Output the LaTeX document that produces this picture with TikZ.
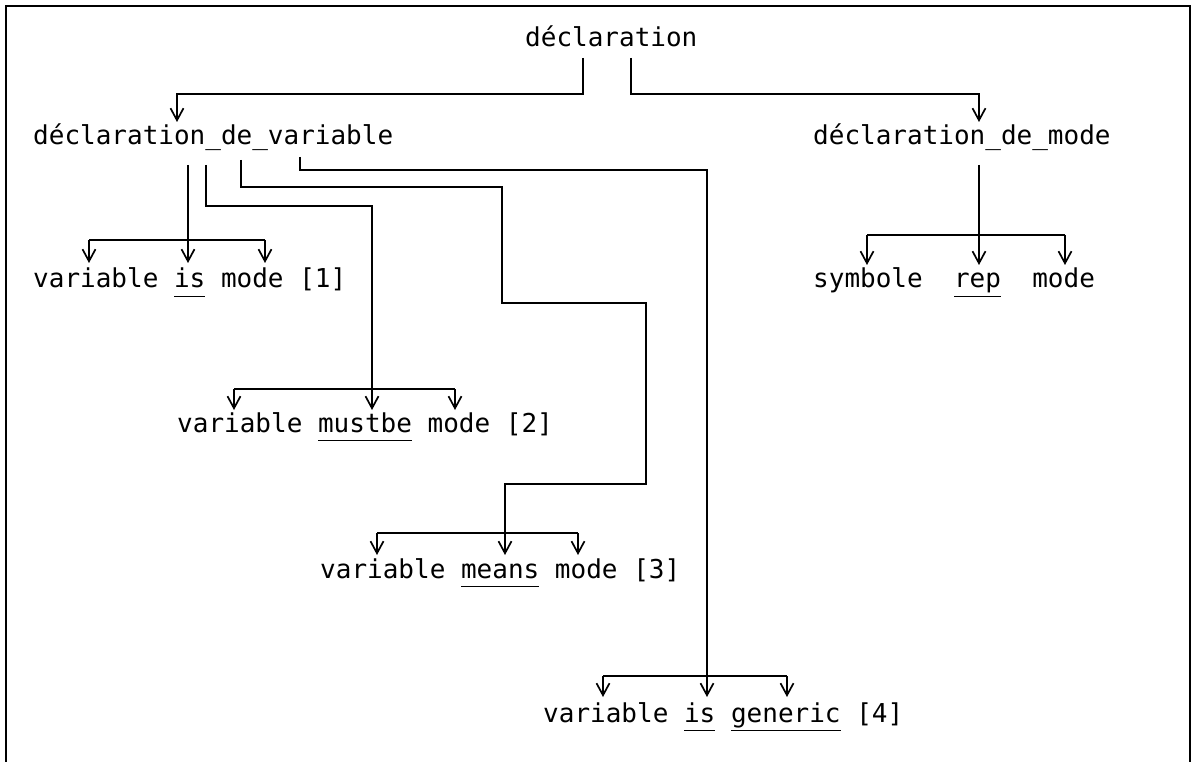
\documentclass[tikz,border=0pt]{standalone}
\usepackage{fontspec}
\setmonofont{DejaVu Sans Mono}
\usetikzlibrary{arrows.meta}
\newcommand{\ulw}[1]{\setbox0\hbox{#1}\rlap{\rule[-9pt]{\wd0}{1.2pt}}\box0\relax}
\begin{document}
\begin{tikzpicture}[x=1pt,y=-1pt,
  lbl/.style={anchor=base west, inner sep=0pt, font=\ttfamily\fontsize{26}{30}\selectfont},
  conn/.style={line width=1.7pt},
  arr/.style={conn,-{Straight Barb[length=12pt,width=13pt,line width=1.7pt]}},
  frame/.style={line width=2pt}]
\useasboundingbox (0,0) rectangle (1195,762);
% frame
\draw[frame] (6,762) -- (6,6) -- (1190,6) -- (1190,762);
% texts
\node[lbl] (root) at (525,47) {déclaration};
\node[lbl] (dv) at (33,145) {déclaration\_de\_variable};
\node[lbl] (dm) at (813,145) {déclaration\_de\_mode};
\node[lbl] (r1) at (33,288) {variable \ulw{is} mode [1]};
\node[lbl] (rm) at (813,288) {symbole~~\ulw{rep}~~mode};
\node[lbl] (r2) at (177,432) {variable \ulw{mustbe} mode [2]};
\node[lbl] (r3) at (320,578) {variable \ulw{means} mode [3]};
\node[lbl] (r4) at (543,722) {variable \ulw{is} \ulw{generic} [4]};
% connector points
\coordinate (rootL) at (583,58);
\coordinate (rootR) at (631,58);
\coordinate (dvIn) at (177,122);
\coordinate (dmIn) at (979,122);
\coordinate (dvA) at (188,165);
\coordinate (dvB) at (206,165);
\coordinate (dvC) at (241,160);
\coordinate (dvD) at (300,157);
\coordinate (dmA) at (979,165);
% root branches
\draw[arr] (rootL) |- (177,94) -- (dvIn);
\draw[arr] (rootR) |- (979,94) -- (dmIn);
% [1]
\draw[arr] (dvA) -- (188,263);
\draw[conn] (89,240) -- (265,240);
\draw[arr] (89,240) -- (89,263);
\draw[arr] (265,240) -- (265,263);
% [2]
\draw[arr] (dvB) |- (372,206) -- (372,410);
\draw[conn] (234,389) -- (455,389);
\draw[arr] (234,389) -- (234,410);
\draw[arr] (455,389) -- (455,410);
% [3]
\draw[arr] (dvC) |- (502,187) |- (646,303) |- (505,484) -- (505,555);
\draw[conn] (377,533) -- (578,533);
\draw[arr] (377,533) -- (377,555);
\draw[arr] (578,533) -- (578,555);
% [4]
\draw[arr] (dvD) |- (707,170) -- (707,697);
\draw[conn] (603,676) -- (787,676);
\draw[arr] (603,676) -- (603,697);
\draw[arr] (787,676) -- (787,697);
% mode
\draw[arr] (dmA) -- (979,265);
\draw[conn] (867,235) -- (1065,235);
\draw[arr] (867,235) -- (867,265);
\draw[arr] (1065,235) -- (1065,265);
\end{tikzpicture}
\end{document}
